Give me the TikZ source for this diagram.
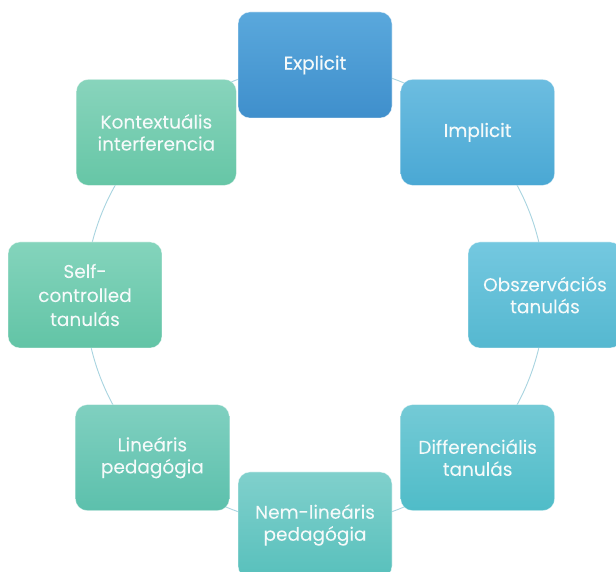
\documentclass[tikz,border=0pt]{standalone}
\usepackage{fontspec}
\setmainfont{Poppins}[FakeBold=0.8]
\newfontfamily\regf[FakeBold=0.6]{Poppins}
\newfontfamily\semib[FakeBold=1.8]{Poppins}
\usetikzlibrary{backgrounds,calc}
\definecolor{linkc}{HTML}{A8D4E0}
\definecolor{eT}{HTML}{5AA8DC}\definecolor{eB}{HTML}{3F8FCC}
\definecolor{iT}{RGB}{108,189,224}\definecolor{iB}{RGB}{74,168,212}
\definecolor{oT}{RGB}{116,200,224}\definecolor{oB}{RGB}{85,184,208}
\definecolor{dT}{RGB}{116,202,214}\definecolor{dB}{RGB}{79,188,200}
\definecolor{nT}{RGB}{128,208,204}\definecolor{nB}{RGB}{88,192,188}
\definecolor{lT}{RGB}{128,208,192}\definecolor{lB}{RGB}{92,192,172}
\definecolor{sT}{RGB}{132,212,188}\definecolor{sB}{RGB}{98,196,166}
\definecolor{kT}{RGB}{136,212,188}\definecolor{kB}{RGB}{102,198,166}
\definecolor{txt}{RGB}{245,250,250}
\tikzset{
  box/.style={rounded corners=12pt, minimum width=154pt, minimum height=106pt,
    align=center, text=txt, font=\fontsize{18.5}{22}\regf, inner sep=2pt,
    draw=white, draw opacity=0.5, line width=0.6pt},
  link/.style={draw=linkc, line width=0.9pt, bend left=22.5, looseness=0.885},
}
\begin{document}
\begin{tikzpicture}[x=1pt,y=1pt]
\useasboundingbox (0,0) rectangle (616,572);
\coordinate (O) at (315,277);
\node[box, top color=eT, bottom color=eB, font=\fontsize{18.5}{22}\semib] (e) at ($(O)+(90:230pt)$) {Explicit};
\node[box, top color=iT, bottom color=iB, font=\fontsize{18.5}{22}\semib] (i) at ($(O)+(45:230pt)$) {Implicit};
\node[box, top color=oT, bottom color=oB] (o) at ($(O)+(0:230pt)$) {Obszervációs\\tanulás};
\node[box, top color=dT, bottom color=dB] (d) at ($(O)+(-45:230pt)$) {Differenciális\\tanulás};
\node[box, top color=nT, bottom color=nB] (n) at ($(O)+(-90:230pt)$) {Nem-lineáris\\pedagógia};
\node[box, top color=lT, bottom color=lB] (l) at ($(O)+(-135:230pt)$) {Lineáris\\pedagógia};
\node[box, top color=sT, bottom color=sB, font=\fontsize{18.5}{24}\regf] (s) at ($(O)+(180:230pt)$) {Self-\\controlled\\tanulás};
\node[box, top color=kT, bottom color=kB, minimum width=160pt] (k) at ($(O)+(135:230pt)+(4pt,0)$) {Kontextuális\\interferencia};
\begin{scope}[on background layer]
\fill[white] (0,0) rectangle (616,572);
\draw[link] (e.center) to (i.center);
\draw[link] (i.center) to (o.center);
\draw[link] (o.center) to (d.center);
\draw[link] (d.center) to (n.center);
\draw[link] (n.center) to (l.center);
\draw[link] (l.center) to (s.center);
\draw[link] (s.center) to (k.center);
\draw[link] (k.center) to (e.center);
\end{scope}
\end{tikzpicture}
\end{document}
